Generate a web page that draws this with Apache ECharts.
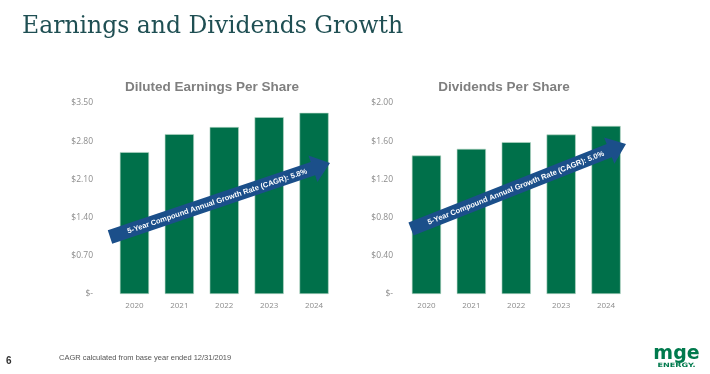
<!DOCTYPE html>
<html>
<head>
<meta charset="utf-8">
<script src="https://cdn.jsdelivr.net/npm/echarts@6/dist/echarts.min.js"></script>
<style>html,body{margin:0;padding:0;background:#fff;}#c{width:710px;height:374px;}</style>
</head>
<body>
<div id="c"></div>
<script>
var years = ['2020', '2021', '2022', '2023', '2024'];
var epsValues = [2.60, 2.93, 3.06, 3.24, 3.32];
var dpsValues = [1.45, 1.52, 1.59, 1.67, 1.76];
var epsTicks = [0, 0.7, 1.4, 2.1, 2.8, 3.5];
var dpsTicks = [0, 0.4, 0.8, 1.2, 1.6, 2.0];
var epsCagrLabel = '5-Year Compound Annual Growth Rate (CAGR): 5.8%';
var dpsCagrLabel = '5-Year Compound Annual Growth Rate (CAGR): 5.0%';

var GREEN = '#00704A';
var BLUE = '#1B4F8A';
var GRAY = '#8c8c8c';

function fmt(v) { return v === 0 ? '$-' : '$' + v.toFixed(2); }

function arrow(cx, cy, tx, ty, label) {
  var dx = tx - cx, dy = ty - cy;
  var L = Math.sqrt(dx * dx + dy * dy);
  var ang = Math.atan2(-dy, dx);
  var hb = 7, hh = 14, hl = 18;
  return {
    type: 'group', x: cx, y: cy, rotation: ang, z: 100, zlevel: 1,
    children: [
      { type: 'polygon', z: 100, zlevel: 1, shape: { points: [[0, -hb], [L - hl, -hb], [L - hl, -hh], [L, 0], [L - hl, hh], [L - hl, hb], [0, hb]] },
        style: { fill: BLUE } },
      { type: 'text', z: 101, zlevel: 1, x: (L - hl) / 2 + 6, y: 0.5,
        style: { text: label, fill: '#fff', font: 'bold 7.5px "Liberation Sans", sans-serif', align: 'center', verticalAlign: 'middle' } }
    ]
  };
}

var chart = echarts.init(document.getElementById('c'), null, { renderer: 'canvas' });
chart.setOption({
  animation: false,
  grid: [
    { left: 112, right: 373.5, top: 103, bottom: 80 },
    { left: 404, right: 81.5, top: 103, bottom: 80 }
  ],
  xAxis: [
    { type: 'category', gridIndex: 0, data: years, axisLine: { show: false }, axisTick: { show: false },
      axisLabel: { color: GRAY, fontSize: 8, fontFamily: 'Open Sans', margin: 8 } },
    { type: 'category', gridIndex: 1, data: years, axisLine: { show: false }, axisTick: { show: false },
      axisLabel: { color: GRAY, fontSize: 8, fontFamily: 'Open Sans', margin: 8 } }
  ],
  yAxis: [
    { type: 'value', gridIndex: 0, min: epsTicks[0], max: epsTicks[epsTicks.length - 1], interval: 0.7,
      splitLine: { show: false }, axisLine: { show: false }, axisTick: { show: false },
      axisLabel: { color: GRAY, fontSize: 8.5, fontFamily: 'Open Sans', margin: 19, formatter: fmt } },
    { type: 'value', gridIndex: 1, min: dpsTicks[0], max: dpsTicks[dpsTicks.length - 1], interval: 0.4,
      splitLine: { show: false }, axisLine: { show: false }, axisTick: { show: false },
      axisLabel: { color: GRAY, fontSize: 8.5, fontFamily: 'Open Sans', margin: 11, formatter: fmt } }
  ],
  series: [
    { type: 'bar', xAxisIndex: 0, yAxisIndex: 0, data: epsValues, barCategoryGap: '35%',
      itemStyle: { color: GREEN, borderColor: '#b8d8c8', borderWidth: 0.6 } },
    { type: 'bar', xAxisIndex: 1, yAxisIndex: 1, data: dpsValues, barCategoryGap: '35%',
      itemStyle: { color: GREEN, borderColor: '#b8d8c8', borderWidth: 0.6 } }
  ],
  graphic: [
    { type: 'text', x: 22, y: 27, style: { text: 'Earnings and Dividends Growth', fill: '#1f4f53',
      font: '23.5px "DejaVu Serif", serif', verticalAlign: 'middle' } },
    { type: 'text', x: 212, y: 87, style: { text: 'Diluted Earnings Per Share', fill: '#7f7f7f',
      font: 'bold 13.5px "Liberation Sans", sans-serif', align: 'center', verticalAlign: 'middle' } },
    { type: 'text', x: 504, y: 87, style: { text: 'Dividends Per Share', fill: '#7f7f7f',
      font: 'bold 13.5px "Liberation Sans", sans-serif', align: 'center', verticalAlign: 'middle' } },
    arrow(110, 237, 330, 163, epsCagrLabel),
    arrow(411, 229, 626, 144, dpsCagrLabel),
    { type: 'text', x: 6, y: 361, style: { text: '6', fill: '#333', font: 'bold 10px "Liberation Sans", sans-serif', verticalAlign: 'middle' } },
    { type: 'text', x: 59, y: 358, style: { text: 'CAGR calculated from base year ended 12/31/2019', fill: '#555',
      font: '7.5px "Liberation Sans Narrow", "Liberation Sans", sans-serif', verticalAlign: 'middle' } },
    { type: 'text', x: 676.5, y: 354.5, style: { text: 'mge', fill: '#007A4D',
      font: 'bold 19px "DejaVu Sans", sans-serif', align: 'center', verticalAlign: 'middle' } },
    { type: 'text', x: 676.5, y: 365, scaleX: 1.35, style: { text: 'ENERGY.', fill: '#007A4D',
      font: 'bold 6px "DejaVu Sans", sans-serif', align: 'center', verticalAlign: 'middle' } }
  ]
});
</script>
</body>
</html>
